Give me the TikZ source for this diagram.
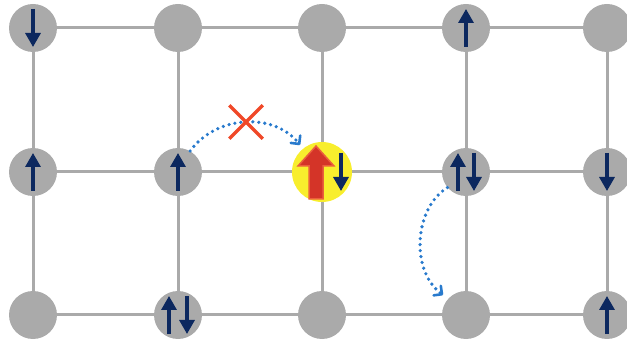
\documentclass[tikz,border=0pt]{standalone}
\usetikzlibrary{arrows.meta,backgrounds,shapes.misc}
\definecolor{gridgray}{RGB}{170,170,170}
\definecolor{spinblue}{RGB}{12,40,95}
\definecolor{hlyellow}{RGB}{248,238,45}
\definecolor{bigred}{RGB}{212,52,40}
\definecolor{bigredrim}{RGB}{235,95,60}
\definecolor{crossred}{RGB}{240,72,40}
\definecolor{hopblue}{RGB}{40,122,205}
% spin arrows: #1 = site, #2 = horizontal offset
\newcommand\spinup[2]{\draw[spin] ([shift={(#2,-19)}]#1.center) -- ([shift={(#2,19)}]#1.center);}
\newcommand\spindown[2]{\draw[spin] ([shift={(#2,19)}]#1.center) -- ([shift={(#2,-19)}]#1.center);}
\begin{document}
\begin{tikzpicture}[x=1pt,y=1pt,
  site/.style={circle,fill=gridgray,minimum size=48pt,inner sep=0pt},
  bond/.style={draw=gridgray,line width=3pt},
  spin/.style={draw=spinblue,line width=3.2pt,-{Triangle[length=14pt,width=15pt]}},
  hop/.style={draw=hopblue,line width=3.6pt,line cap=round,dash pattern=on 0pt off 6pt,
    -{Straight Barb[length=6pt,width=12pt,line width=2.6pt,line cap=round,line join=round]}},
  cross/.style={cross out,draw=crossred,line width=3.5pt,minimum size=30pt,inner sep=0pt}]
\useasboundingbox (0,0) rectangle (627,343);

% lattice sites
\foreach \c/\x in {0/33,1/178,2/322,3/466,4/607}
  \foreach \r/\y in {0/315,1/171,2/28}
    \node[site] (n\r\c) at (\x,\y) {};

% bonds between neighbouring sites
\begin{scope}[on background layer]
  \foreach \r in {0,1,2}
    \foreach \c/\d in {0/1,1/2,2/3,3/4}
      \draw[bond] (n\r\c) -- (n\r\d);
  \foreach \c in {0,...,4}
    \foreach \r/\s in {0/1,1/2}
      \draw[bond] (n\r\c) -- (n\s\c);
\end{scope}

% highlighted site
\node[circle,fill=hlyellow,minimum size=60pt,inner sep=0pt] (hl) at (n12) {};
\begin{scope}[shift={(hl.center)}]
  \filldraw[fill=bigred,draw=bigredrim,line width=1.5pt]
    (-13,-27) -- (1,-27) -- (1,6) -- (12,6) -- (-6,26) -- (-24,6) -- (-13,6) -- cycle;
\end{scope}
\spindown{hl}{19}

% spins
\spindown{n00}{0}
\spinup{n03}{0}
\spinup{n10}{0}
\spinup{n11}{0}
\spinup{n13}{-8}
\spindown{n13}{8}
\spindown{n14}{0}
\spinup{n21}{-9}
\spindown{n21}{9}
\spinup{n24}{0}

% hopping paths
\draw[hop] (n11.60) .. controls +(27,37) and +(-25,32) .. ([shift={(-22,27)}]hl.center);
\node[cross] (blocked) at (246,221) {};
\draw[hop] (n13.220) .. controls +(-33,-20) and +(-33,25) .. ([shift={(-23,20)}]n23.center);
\end{tikzpicture}
\end{document}
